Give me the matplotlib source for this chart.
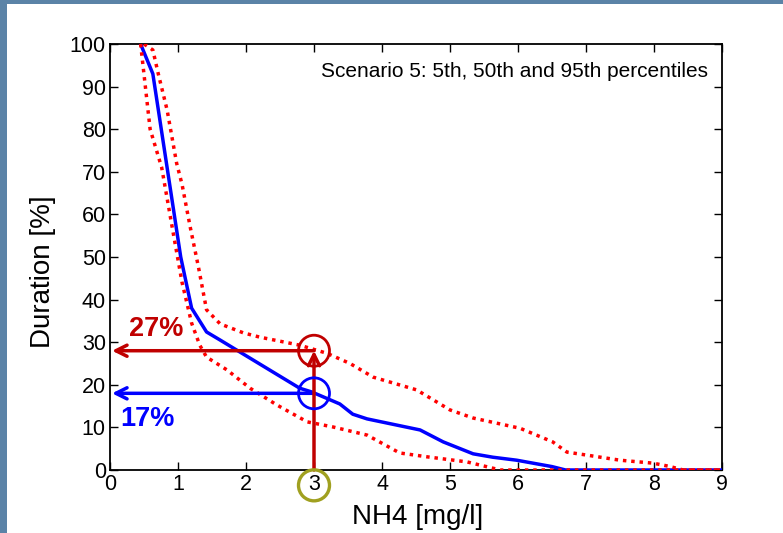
import numpy as np
import matplotlib.pyplot as plt
from matplotlib.patches import Ellipse, Rectangle

plt.rcParams['font.family'] = ['Liberation Sans', 'DejaVu Sans']

# median (50th percentile)
p50_x = [0.45, 0.63, 1.04, 1.2, 1.42, 1.62, 2.79, 2.97, 3.38, 3.57, 3.78, 4.56, 4.9, 5.34, 5.63, 5.98, 6.5, 6.7, 9.0]
p50_y = [100, 93, 50, 38, 32.4, 30.5, 19.2, 18.3, 15.5, 13.1, 12, 9.4, 6.6, 3.8, 3.0, 2.3, 0.8, 0, 0]

# 5th percentile (lower / left)
p05_x = [0.45, 0.59, 0.76, 0.93, 1.06, 1.2, 1.32, 1.42, 1.72, 2.06, 2.45, 2.9, 3.28, 3.78, 4.26, 4.66, 5.25, 5.74, 9.0]
p05_y = [100, 80, 71, 55.6, 44, 34.5, 29.3, 26.5, 23.5, 19.2, 15.3, 11.3, 10.1, 8.2, 4.0, 3.1, 1.9, 0, 0]

# 95th percentile (upper / right)
p95_x = [0.5, 0.63, 0.71, 0.84, 0.98, 1.06, 1.18, 1.3, 1.42, 1.62, 1.96, 2.2, 2.79, 3.19, 3.53, 3.87, 4.51, 5.0, 5.34,
         6.03, 6.51, 6.72, 7.01, 7.5, 7.99, 8.24, 8.43, 9.0]
p95_y = [100, 98.6, 93, 84.5, 72, 67, 57, 47.7, 37.6, 34.3, 32.2, 31.2, 29.3, 27.4, 25, 21.8, 18.8, 14.1, 12.2,
         9.8, 6.6, 4.2, 3.5, 2.3, 1.6, 0.8, 0, 0]

conc = 3.0
dur_95 = 28
dur_50 = 18

fig = plt.figure(figsize=(7.83, 5.33), dpi=100)
fig.patch.set_facecolor('#5b83a7')
fig.patches.append(Rectangle((7/783, 0), 1, 1 - 4/533, transform=fig.transFigure,
                             facecolor='white', edgecolor='none', zorder=-10))

ax = fig.add_axes([110/783, 1 - 470/533, 612/783, 426/533])
ax.set_zorder(2)
ax.plot(p50_x, p50_y, color='#0000ff', lw=2.5, zorder=3)
ax.plot(p05_x, p05_y, color='#ff0000', lw=2.5, ls=(0, (1, 1.4)), zorder=3)
ax.plot(p95_x, p95_y, color='#ff0000', lw=2.5, ls=(0, (1, 1.4)), zorder=3)

dred = '#c00000'
head = '->,head_length=0.8,head_width=0.4'
ax.annotate('', xy=(conc, dur_95), xytext=(conc, 0),
            arrowprops=dict(arrowstyle=head, color=dred, lw=2.5, shrinkA=0, shrinkB=0), zorder=5)
ax.annotate('', xy=(0.03, dur_95), xytext=(conc, dur_95),
            arrowprops=dict(arrowstyle=head, color=dred, lw=2.5, shrinkA=0, shrinkB=0), zorder=5)
ax.annotate('', xy=(0.03, dur_50), xytext=(conc, dur_50),
            arrowprops=dict(arrowstyle=head, color='#0000ff', lw=2.5, shrinkA=0, shrinkB=0), zorder=4)

# circles (radius given in pixels, converted to data units)
rx = 15.5 / 68
ry = 15.5 / 4.26
ax.add_patch(Ellipse((conc, dur_95), 2 * rx, 2 * ry, fill=False, ec=dred, lw=2, zorder=6))
ax.add_patch(Ellipse((conc, dur_50), 2 * rx, 2 * ry, fill=False, ec='#0000ff', lw=2, zorder=6))
ax.add_patch(Ellipse((conc, -3.6), 2 * rx, 2 * ry, fill=False, ec='#a0a020', lw=2.4,
                     zorder=6, clip_on=False))

ax.text(0.28, 33, '27%', color=dred, fontsize=19.5, fontweight='bold', ha='left', va='center')
ax.text(0.15, 12, '17%', color='#0000ff', fontsize=19.5, fontweight='bold', ha='left', va='center')
ax.text(8.8, 93.5, 'Scenario 5: 5th, 50th and 95th percentiles', fontsize=15, ha='right', va='center')

ax.set_xlim(0, 9)
ax.set_ylim(0, 100)
ax.set_xticks(np.arange(0, 10, 1))
ax.set_yticks(np.arange(0, 101, 10))
ax.tick_params(direction='in', length=6, width=1, top=True, right=True, labelsize=15.5, pad=3)
for s in ax.spines.values():
    s.set_linewidth(1.3)
ax.set_xlabel('NH4 [mg/l]', fontsize=20)
ax.set_ylabel('Duration [%]', fontsize=20)
ax.xaxis.set_label_coords(0.503, -0.08)
ax.yaxis.set_label_coords(-0.088, 0.465)

fig.savefig('out.png', dpi=100)
